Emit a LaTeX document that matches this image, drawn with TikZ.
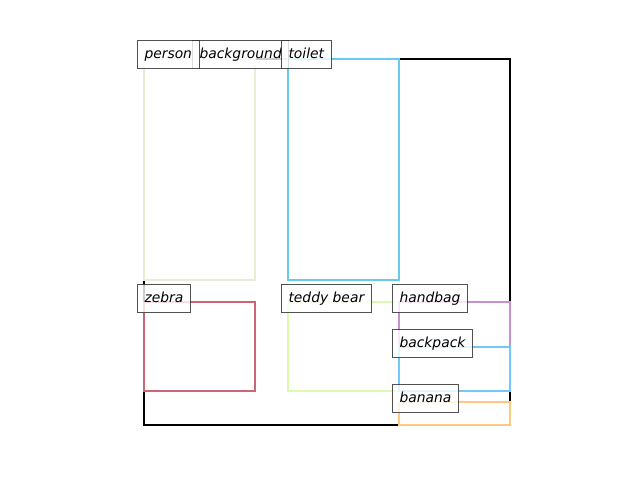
\documentclass[tikz,border=0pt]{standalone}
\usepackage{fontspec}
\setmainfont{DejaVu Sans}
\definecolor{cbeige}{HTML}{E6EED4}
\definecolor{ctoilet}{HTML}{66CCEE}
\definecolor{czebra}{HTML}{CC6677}
\definecolor{cteddy}{HTML}{DDFBB0}
\definecolor{chandbag}{HTML}{C890D0}
\definecolor{cbackpack}{HTML}{72C8F8}
\definecolor{cbanana}{HTML}{FFC880}
\begin{document}
\begin{tikzpicture}[x=0.75pt,y=-0.75pt,
  bx/.style={line width=1.7pt},
  lbl/.style={draw=black!80, draw opacity=0.85, fill=white, fill opacity=0.8, text opacity=1,
    inner xsep=5.25pt, inner ysep=0pt, minimum height=21pt, text height=7.6pt, text depth=2.2pt,
    anchor=north west, font=\fontsize{10.4}{12}\selectfont\itshape, line width=0.75pt}]
\useasboundingbox (0,0) rectangle (640,480);
% boxes
\draw[bx, black] (144,59) rectangle (510,425);
\draw[bx, cbeige] (144,59) rectangle (255,280);
\draw[bx, ctoilet] (288,59) rectangle (399,280);
\draw[bx, czebra] (144,302) rectangle (255,391);
\draw[bx, cteddy] (288,302) rectangle (399,391);
\draw[bx, chandbag] (399,302) rectangle (510,391);
\draw[bx, cbackpack] (399,347) rectangle (510,391);
\draw[bx, cbanana] (399,402) rectangle (510,425);
% labels
\node[lbl] (lbackground) at (192,40) {background};
\node[lbl] (lperson) at (137,40) {person};
\node[lbl] (ltoilet) at (281,40) {toilet};
\node[lbl] (lzebra) at (137,284) {zebra};
\node[lbl] (lteddy) at (281,284) {teddy bear};
\node[lbl] (lhandbag) at (392,284) {handbag};
\node[lbl] (lbackpack) at (392,329) {backpack};
\node[lbl] (lbanana) at (392,384) {banana};
\end{tikzpicture}
\end{document}
